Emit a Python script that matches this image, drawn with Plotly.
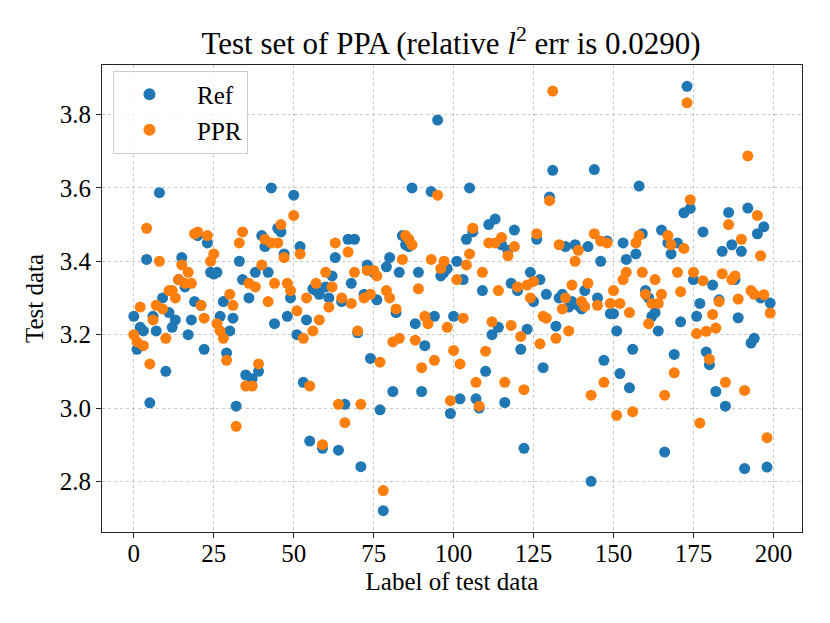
import plotly.graph_objects as go

# Test-sample index and the two series
labels = list(range(200))

ref = [
    3.25, 3.16, 3.22, 3.21, 3.405, 3.014, 3.25, 3.21, 3.587, 3.30,
    3.10, 3.26, 3.22, 3.24, 3.35, 3.41, 3.33, 3.20, 3.24, 3.29,
    3.47, 3.28, 3.16, 3.45, 3.37, 3.365, 3.37, 3.25, 3.29, 3.15,
    3.21, 3.245, 3.005, 3.40, 3.35, 3.09, 3.30, 3.08, 3.37, 3.10,
    3.47, 3.44, 3.37, 3.60, 3.23, 3.49, 3.48, 3.42, 3.25, 3.30,
    3.58, 3.20, 3.44, 3.07, 3.24, 2.91, 3.325, 3.32, 3.31, 2.89,
    3.33, 3.30, 3.36, 3.41, 2.885, 3.29, 3.01, 3.46, 3.34, 3.46,
    3.205, 2.84, 3.31, 3.39, 3.135, 3.37, 3.295, 2.995, 2.72, 3.385,
    3.41, 3.045, 3.26, 3.37, 3.47, 3.445, 3.44, 3.60, 3.23, 3.37,
    3.045, 3.17, 3.245, 3.59, 3.25, 3.785, 3.36, 3.37, 3.38, 2.985,
    3.25, 3.40, 3.025, 3.35, 3.46, 3.60, 3.48, 3.025, 3.00, 3.32,
    3.10, 3.50, 3.20, 3.515, 3.22, 3.445, 3.015, 3.43, 3.34, 3.485,
    3.32, 3.16, 2.89, 3.215, 3.37, 3.29, 3.46, 3.35, 3.11, 3.31,
    3.575, 3.648, 3.223, 3.30, 3.31, 3.44, 3.275, 3.29, 3.445, 3.28,
    3.27, 3.32, 3.44, 2.80, 3.65, 3.30, 3.40, 3.13, 3.455, 3.257,
    3.257, 3.21, 3.094, 3.45, 3.405, 3.055, 3.16, 3.42, 3.605, 3.475,
    3.32, 3.30, 3.25, 3.26, 3.21, 3.485, 2.88, 3.45, 3.42, 3.146,
    3.45, 3.235, 3.532, 3.877, 3.544, 3.35, 3.25, 3.285, 3.48, 3.153,
    3.118, 3.335, 3.045, 3.295, 3.427, 3.005, 3.533, 3.445, 3.35, 3.246,
    3.427, 2.835, 3.545, 3.177, 3.19, 3.475, 3.30, 3.494, 2.839, 3.286,
]

ppr = [
    3.20, 3.18, 3.275, 3.17, 3.49, 3.12, 3.24, 3.28, 3.40, 3.27,
    3.19, 3.32, 3.32, 3.30, 3.35, 3.39, 3.34, 3.37, 3.34, 3.475,
    3.48, 3.28, 3.245, 3.47, 3.40, 3.42, 3.23, 3.21, 3.19, 3.13,
    3.31, 3.28, 2.95, 3.45, 3.48, 3.06, 3.34, 3.06, 3.33, 3.12,
    3.39, 3.46, 3.29, 3.45, 3.34, 3.45, 3.50, 3.41, 3.34, 3.32,
    3.525, 3.265, 3.42, 3.19, 3.30, 3.06, 3.21, 3.34, 3.24, 2.90,
    3.37, 3.275, 3.33, 3.45, 3.01, 3.30, 2.96, 3.425, 3.285, 3.37,
    3.21, 3.01, 3.30, 3.375, 3.31, 3.375, 3.36, 3.125, 2.775, 3.32,
    3.30, 3.18, 3.27, 3.19, 3.405, 3.47, 3.46, 3.445, 3.185, 3.325,
    3.11, 3.25, 3.23, 3.405, 3.13, 3.58, 3.38, 3.40, 3.22, 3.02,
    3.157, 3.35, 3.12, 3.245, 3.39, 3.42, 3.49, 3.07, 3.005, 3.37,
    3.155, 3.45, 3.235, 3.45, 3.32, 3.465, 3.07, 3.415, 3.225, 3.44,
    3.33, 3.195, 3.05, 3.335, 3.30, 3.345, 3.475, 3.175, 3.25, 3.245,
    3.565, 3.864, 3.19, 3.445, 3.27, 3.30, 3.21, 3.335, 3.40, 3.43,
    3.29, 3.277, 3.34, 3.035, 3.475, 3.28, 3.455, 3.07, 3.45, 3.285,
    3.32, 2.98, 3.285, 3.35, 3.37, 3.26, 2.99, 3.45, 3.47, 3.37,
    3.31, 3.23, 3.285, 3.35, 3.285, 3.31, 3.035, 3.47, 3.445, 3.096,
    3.37, 3.317, 3.435, 3.832, 3.568, 3.37, 3.203, 2.959, 3.347, 3.209,
    3.133, 3.255, 3.218, 3.29, 3.366, 3.07, 3.50, 3.35, 3.36, 3.297,
    3.46, 3.048, 3.687, 3.32, 3.31, 3.525, 3.415, 3.309, 2.919, 3.259,
]

x_ticks = [0, 25, 50, 75, 100, 125, 150, 175, 200]
y_ticks = [2.8, 3.0, 3.2, 3.4, 3.6, 3.8]

serif = "Liberation Serif, Times New Roman, serif"

fig = go.Figure()
fig.add_trace(go.Scatter(x=labels, y=ref, mode="markers", name="\u2002Ref",
                         marker=dict(color="#1f77b4", size=11, line=dict(width=0))))
fig.add_trace(go.Scatter(x=labels, y=ppr, mode="markers", name="\u2002PPR",
                         marker=dict(color="#ff7f0e", size=11, line=dict(width=0))))

axis_common = dict(
    showline=True, linecolor="#222222", linewidth=1.2, mirror=True,
    ticks="outside", ticklen=5, tickwidth=1.2, tickcolor="#222222",
    showgrid=True, gridcolor="#c8c8c8", griddash="dot", gridwidth=1,
    zeroline=False, automargin=False,
    tickfont=dict(family=serif, size=25, color="black"),
)

# the page body adds an 8px offset, so the figure is 822x615
fig.update_layout(
    width=822, height=615,
    margin=dict(l=93.5, r=28, t=57, b=91.4),
    plot_bgcolor="white", paper_bgcolor="white",
    font=dict(family=serif, size=25, color="black"),
    title=dict(text="Test set of PPA (relative <i>l</i><sup>2</sup> err is 0.0290)",
               x=0.539, xanchor="center", y=0.943, yanchor="middle",
               font=dict(family=serif, size=31, color="black")),
    xaxis=dict(axis_common, range=[-9.95, 208.95], tickvals=x_ticks,
               ticklabelstandoff=-6,
               title=dict(text="Label of test data", standoff=6,
                          font=dict(family=serif, size=25))),
    yaxis=dict(axis_common, range=[2.662, 3.935], tickvals=y_ticks, tickformat=".1f",
               title=dict(text="Test data", standoff=8,
                          font=dict(family=serif, size=25))),
    legend=dict(x=0.0164, y=0.988, xanchor="left", yanchor="top",
                bgcolor="rgba(255,255,255,0.8)", bordercolor="#cccccc", borderwidth=1,
                font=dict(family=serif, size=25), itemsizing="constant",
                itemwidth=60),
    showlegend=True,
)

fig.write_html("out.html")
